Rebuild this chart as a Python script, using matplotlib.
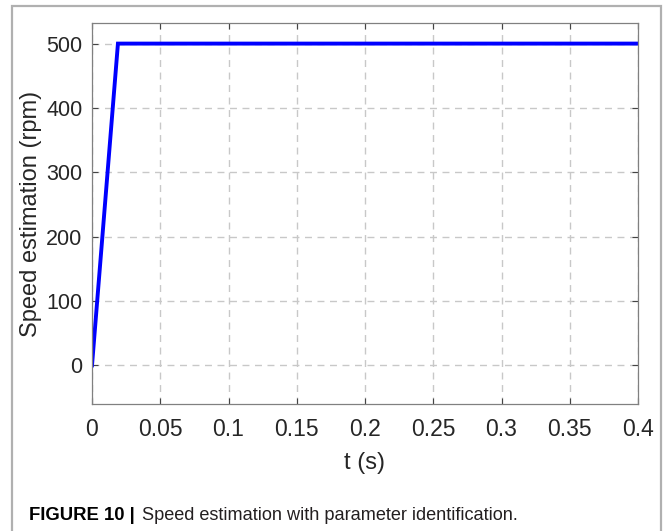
import matplotlib
matplotlib.use("Agg")
import matplotlib.pyplot as plt
from matplotlib.patches import Rectangle

# Speed estimate: linear ramp then constant at reference speed
t_s = [0.0, 0.019, 0.4]
speed_rpm = [0.0, 500.0, 500.0]

x_ticks = [0, 0.05, 0.1, 0.15, 0.2, 0.25, 0.3, 0.35, 0.4]
x_tick_labels = ["0", "0.05", "0.1", "0.15", "0.2", "0.25", "0.3", "0.35", "0.4"]
y_ticks = [0, 100, 200, 300, 400, 500]

plt.rcParams["font.family"] = ["Liberation Sans", "DejaVu Sans"]

W, H = 665, 531
fig = plt.figure(figsize=(W / 100, H / 100), dpi=100)
ax = fig.add_axes([92 / W, 1 - 404 / H, 546 / W, 381 / H])

ax.plot(t_s, speed_rpm, color="#0000ff", linewidth=2.8, solid_joinstyle="miter")

ax.set_xlim(0, 0.4)
ax.set_ylim(-60, 532)
ax.set_xticks(x_ticks)
ax.set_xticklabels(x_tick_labels)
ax.set_yticks(y_ticks)
ax.tick_params(direction="in", length=4, width=0.8, color="#444444",
               labelsize=16.5, labelcolor="#262626", top=True, right=True)
ax.tick_params(axis="x", pad=10)
ax.tick_params(axis="y", pad=7, labelsize=15.5)
ax.grid(True, linestyle=(0, (5, 4)), color="#c8c8c8", linewidth=1.0)
for s in ax.spines.values():
    s.set_color("#808080")
    s.set_linewidth(0.9)

ax.set_xlabel("t (s)", fontsize=17, color="#262626", labelpad=8)
ax.set_ylabel("Speed estimation (rpm)", fontsize=17, color="#262626")
ax.yaxis.set_label_coords(-0.092, 0.5)

# frame around figure panel
fig.patches.append(Rectangle((12 / W, -0.05), 649 / W, 1.05 - 6 / H,
                             transform=fig.transFigure, fill=False,
                             edgecolor="#b0b0b0", linewidth=1.6, clip_on=False))

cap_y = 1 - 515 / H
fig.text(29 / W, cap_y, "FIGURE 10 |", fontsize=13.3, fontweight="bold",
         va="center", ha="left", color="black")
fig.text(142 / W, cap_y, "Speed estimation with parameter identification.",
         fontsize=13.1, va="center", ha="left", color="#231f20")

fig.savefig("out.png", dpi=100)
